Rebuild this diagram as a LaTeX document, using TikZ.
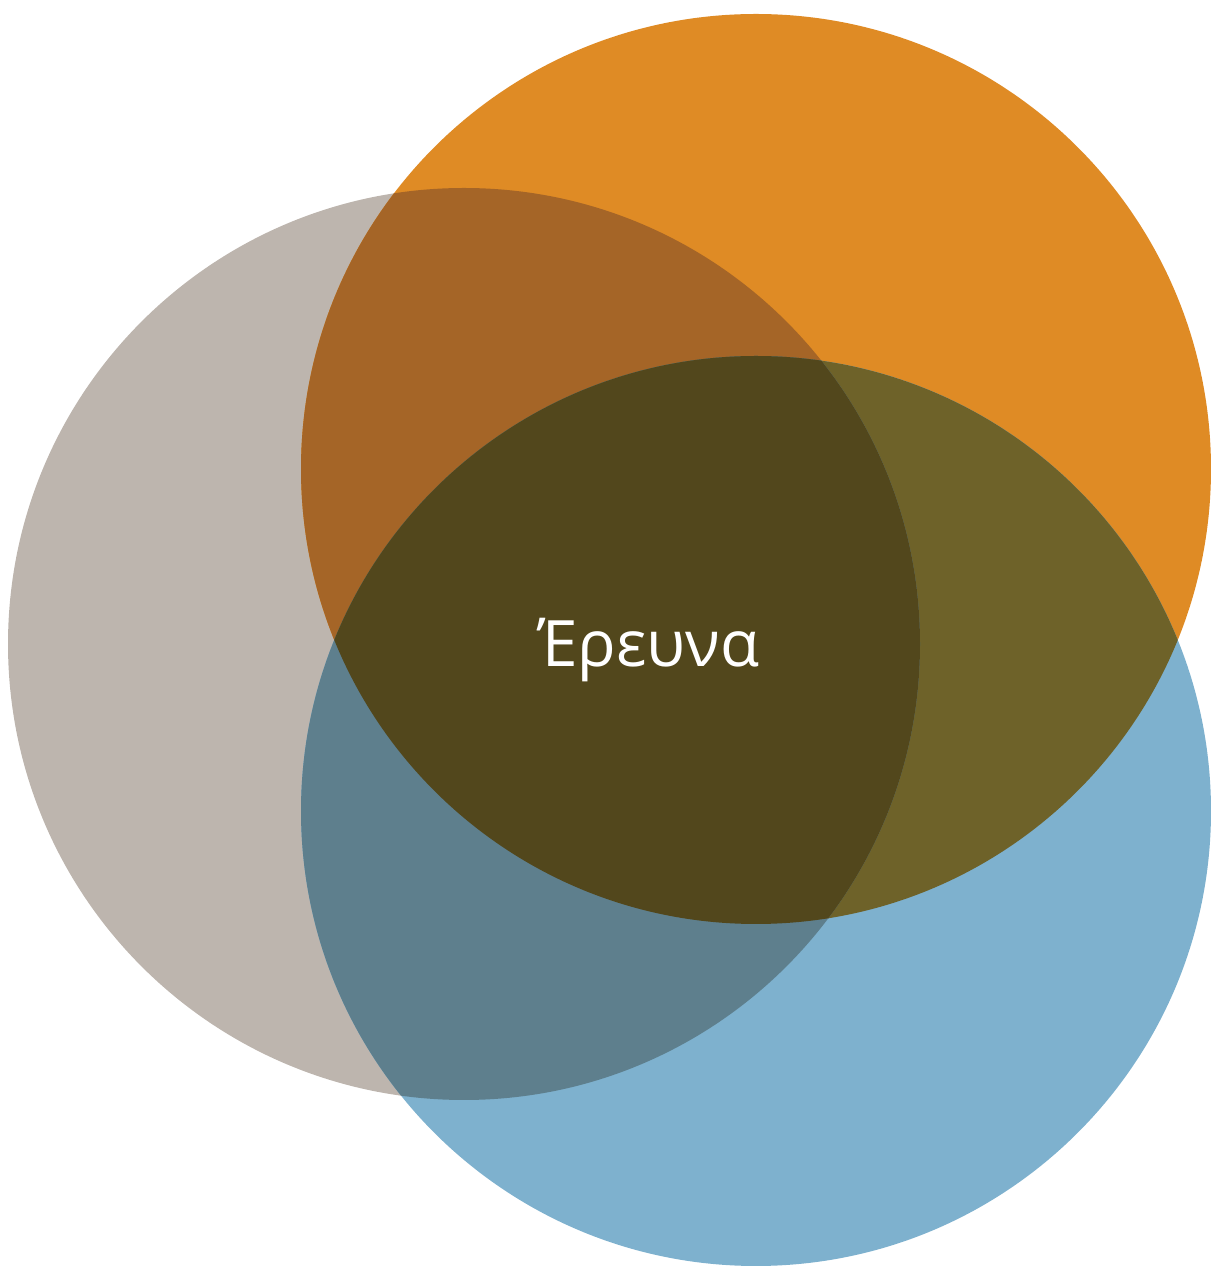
\documentclass[tikz,border=0pt]{standalone}
\usepackage{fontspec}
\setmainfont{Open Sans}
\definecolor{corange}{HTML}{DF8B25}
\definecolor{cgray}{HTML}{BDB5AE}
\definecolor{cblue}{HTML}{7EB1CE}
\definecolor{cog}{HTML}{A56527}
\definecolor{cob}{HTML}{6E6229}
\definecolor{cgb}{HTML}{5E7F8D}
\definecolor{call}{HTML}{52471C}
\begin{document}
\begin{tikzpicture}[x=1pt,y=1pt]
\useasboundingbox (0,0) rectangle (1210,1266);
\def\gray{(464,622) circle (456)}
\def\orng{(756,797) circle (455)}
\def\blu{(756,455) circle (455)}
\fill[cgray] \gray;
\fill[corange] \orng;
\fill[cblue] \blu;
\begin{scope}\clip \gray; \fill[cog] \orng; \end{scope}
\begin{scope}\clip \orng; \fill[cob] \blu; \end{scope}
\begin{scope}\clip \gray; \fill[cgb] \blu; \end{scope}
\begin{scope}\clip \gray; \clip \orng; \fill[call] \blu; \end{scope}
\node[text=white, font=\fontsize{64}{76}\selectfont, anchor=base, inner sep=0pt] (label) at (649,599) {Έρευνα};
\end{tikzpicture}
\end{document}
